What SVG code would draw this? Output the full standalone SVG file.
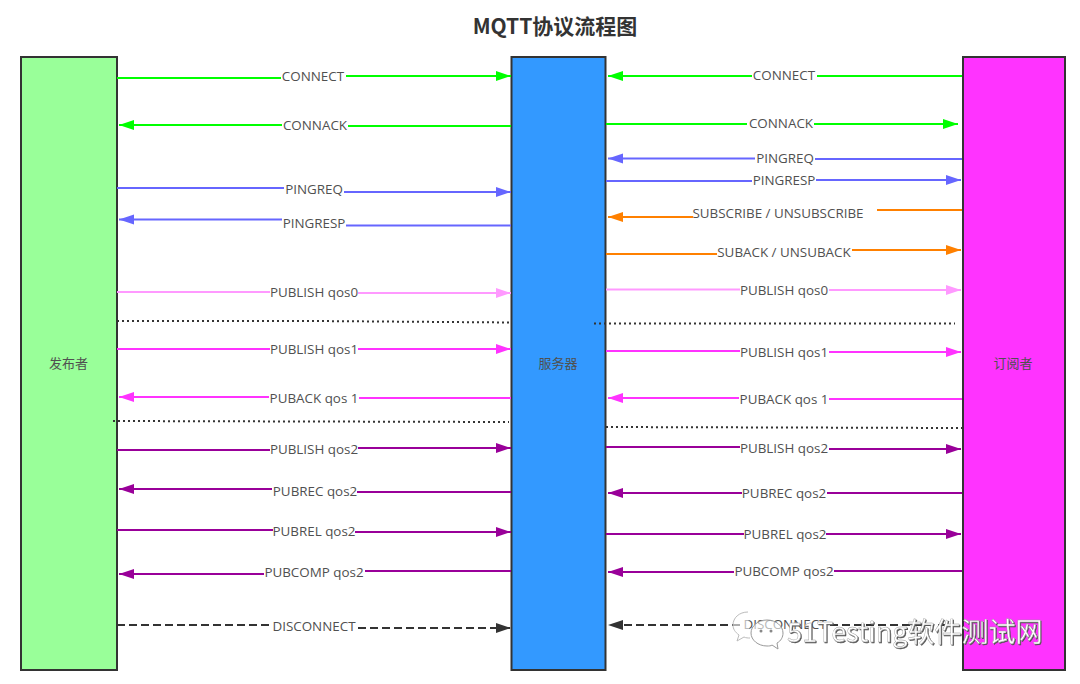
<svg xmlns="http://www.w3.org/2000/svg" width="1080" height="684" viewBox="0 0 1080 684">
<style>
text{font-family:"Open Sans","Noto Sans","Noto Sans CJK SC",sans-serif;font-size:13.400px;fill:#505050;text-anchor:middle}
.t{font-family:"Noto Sans CJK SC","Noto Sans",sans-serif;font-size:21px;font-weight:700;fill:#333}
.c{font-family:"Noto Sans CJK SC","Noto Sans",sans-serif;font-size:13px}
.n{fill:none;stroke-width:2}
.box{stroke:#333;stroke-width:2}
.g{stroke:#00ff00}.b{stroke:#6666ff}.o{stroke:#ff8000}.p{stroke:#ff99ff}.m{stroke:#ff33ff}.u{stroke:#990099}
.d{stroke:#333;stroke-dasharray:8 4}
.dot{stroke:#333;stroke-dasharray:2 3}
.wm{font-family:"Noto Sans CJK SC","Noto Sans",sans-serif;font-size:27px;fill:#fff;stroke:#999;stroke-width:.4;text-anchor:start}
</style>
<defs>
<filter id="sh" x="-5%" y="-20%" width="110%" height="140%"><feDropShadow dx="1" dy="1" stdDeviation=".5" flood-color="#555"/></filter>
<marker id="ag" markerUnits="userSpaceOnUse" markerWidth="16" markerHeight="12" refX="15" refY="6" orient="auto"><path d="M0 1L15 6L0 11Z" fill="#00ff00"/></marker>
<marker id="ab" markerUnits="userSpaceOnUse" markerWidth="16" markerHeight="12" refX="15" refY="6" orient="auto"><path d="M0 1L15 6L0 11Z" fill="#6666ff"/></marker>
<marker id="ao" markerUnits="userSpaceOnUse" markerWidth="16" markerHeight="12" refX="15" refY="6" orient="auto"><path d="M0 1L15 6L0 11Z" fill="#ff8000"/></marker>
<marker id="ap" markerUnits="userSpaceOnUse" markerWidth="16" markerHeight="12" refX="15" refY="6" orient="auto"><path d="M0 1L15 6L0 11Z" fill="#ff99ff"/></marker>
<marker id="am" markerUnits="userSpaceOnUse" markerWidth="16" markerHeight="12" refX="15" refY="6" orient="auto"><path d="M0 1L15 6L0 11Z" fill="#ff33ff"/></marker>
<marker id="au" markerUnits="userSpaceOnUse" markerWidth="16" markerHeight="12" refX="15" refY="6" orient="auto"><path d="M0 1L15 6L0 11Z" fill="#990099"/></marker>
<marker id="ad" markerUnits="userSpaceOnUse" markerWidth="16" markerHeight="12" refX="15" refY="6" orient="auto"><path d="M0 1L15 6L0 11Z" fill="#333"/></marker>
</defs>
<rect width="1080" height="684" fill="#fff"/>
<text class="t" x="555" y="34">MQTT协议流程图</text>
<g id="publisher"><rect class="box" x="21" y="57" width="96" height="613" fill="#99ff99"/><text class="c" x="68.500" y="368">发布者</text></g>
<g id="broker"><rect class="box" x="511.500" y="57" width="94" height="613" fill="#3399ff"/><text class="c" x="558" y="368">服务器</text></g>
<g id="subscriber"><rect class="box" x="963" y="57" width="102" height="613" fill="#ff33ff"/><text class="c" x="1013" y="368">订阅者</text></g>
<g id="connectors" class="n">
<path class="g" d="M117 78H281"/><path class="g" marker-end="url(#ag)" d="M346 76H511"/>
<path class="g" marker-end="url(#ag)" d="M282 125H119"/><path class="g" d="M348 126H511"/>
<path class="b" d="M117 188H284"/><path class="b" marker-end="url(#ab)" d="M344 192H511"/>
<path class="b" marker-end="url(#ab)" d="M282 219.500H119"/><path class="b" d="M346 225.500H511"/>
<path class="p" d="M117 292H270"/><path class="p" marker-end="url(#ap)" d="M358 293H511"/>
<path class="dot" d="M117 321H315L511 322.500"/>
<path class="m" d="M117 349H270"/><path class="m" marker-end="url(#am)" d="M358 349H511"/>
<path class="m" marker-end="url(#am)" d="M269 397H119"/><path class="m" d="M359 398H511"/>
<path class="dot" d="M113 421L509 422"/>
<path class="u" d="M117 450H270"/><path class="u" marker-end="url(#au)" d="M358 448H511"/>
<path class="u" marker-end="url(#au)" d="M272 489H119"/><path class="u" d="M357 492H511"/>
<path class="u" d="M117 530H273"/><path class="u" marker-end="url(#au)" d="M355 532H511"/>
<path class="u" marker-end="url(#au)" d="M264 574H119"/><path class="u" d="M365 571H511"/>
<path class="d" d="M117 625H270"/><path class="d" marker-end="url(#ad)" d="M358 628H511"/>
<path class="g" marker-end="url(#ag)" d="M752 76H608"/><path class="g" d="M817 76H962"/>
<path class="g" d="M606 124H747"/><path class="g" marker-end="url(#ag)" d="M814 124H958"/>
<path class="b" marker-end="url(#ab)" d="M755 158.500H608"/><path class="b" d="M815 159H962"/>
<path class="b" d="M606 181H752"/><path class="b" marker-end="url(#ab)" d="M816 180H961"/>
<path class="o" marker-end="url(#ao)" d="M693 217H608"/><path class="o" d="M877 210H962"/>
<path class="o" d="M606 254H717"/><path class="o" marker-end="url(#ao)" d="M852 250H961"/>
<path class="p" d="M606 289.500H740"/><path class="p" marker-end="url(#ap)" d="M829 290H961"/>
<path class="dot" d="M594 323.500H955"/>
<path class="m" d="M606 351H740"/><path class="m" marker-end="url(#am)" d="M829 352H961"/>
<path class="m" marker-end="url(#am)" d="M739 398H608"/><path class="m" d="M829 399H962"/>
<path class="dot" d="M606 427L962 428"/>
<path class="u" d="M606 447H740"/><path class="u" marker-end="url(#au)" d="M829 449H961"/>
<path class="u" marker-end="url(#au)" d="M742 493H608"/><path class="u" d="M827 493H962"/>
<path class="u" d="M606 534H744"/><path class="u" marker-end="url(#au)" d="M826 534H961"/>
<path class="u" marker-end="url(#au)" d="M734 572H608"/><path class="u" d="M834 571H962"/>
<path class="d" marker-end="url(#ad)" d="M740 625H608"/><path class="d" d="M830 625H962"/>
</g>
<g id="labels">
<text x="313" y="81">CONNECT</text><text x="315" y="130">CONNACK</text><text x="314" y="194">PINGREQ</text><text x="314" y="228">PINGRESP</text>
<text x="314" y="297">PUBLISH qos0</text><text x="314" y="354">PUBLISH qos1</text><text x="314" y="403">PUBACK qos 1</text><text x="314" y="454">PUBLISH qos2</text>
<text x="315" y="496">PUBREC qos2</text><text x="314" y="536">PUBREL qos2</text><text x="314" y="577">PUBCOMP qos2</text><text x="314" y="631">DISCONNECT</text>
<text x="784" y="80">CONNECT</text><text x="781" y="128">CONNACK</text><text x="785" y="163">PINGREQ</text><text x="784" y="185">PINGRESP</text>
<text x="778" y="218">SUBSCRIBE / UNSUBSCRIBE</text><text x="784" y="257">SUBACK / UNSUBACK</text><text x="784" y="295">PUBLISH qos0</text><text x="784" y="357">PUBLISH qos1</text>
<text x="784" y="403.500">PUBACK qos 1</text><text x="784" y="453">PUBLISH qos2</text><text x="784" y="498">PUBREC qos2</text><text x="785" y="539">PUBREL qos2</text>
<text x="784" y="576">PUBCOMP qos2</text><text x="785" y="629">DISCONNECT</text>
</g>
<g id="watermark">
<path d="M748 612c-9 0-15 6-15 13 0 4 2 7 6 10l-2 6 7-4c2 1 4 1 6 1" fill="#fff" fill-opacity=".6" stroke="#bbb"/>
<path d="M767 620c-9 0-16 6-16 13s7 13 16 13c2 0 4 0 5-1l6 4-1-6c4-2 6-6 6-10 0-7-7-13-16-13z" fill="#fff" fill-opacity=".6" stroke="#999"/>
<circle cx="761" cy="631" r="1.500" fill="#888"/><circle cx="771" cy="631" r="1.500" fill="#888"/>
<text class="wm" x="787" y="642" filter="url(#sh)">51Testing软件测试网</text>
</g>
</svg>
